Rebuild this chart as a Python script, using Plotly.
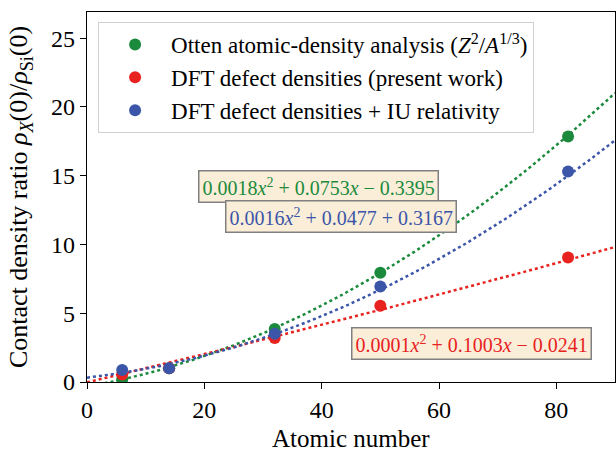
import numpy as np
import plotly.graph_objects as go

# ---- data ----
otten_z = [6, 14, 32, 50, 82]
otten_ratio = [0.2, 1.0, 3.85, 7.95, 17.85]
dft_z = [6, 14, 32, 50, 82]
dft_ratio = [0.55, 1.0, 3.2, 5.55, 9.05]
iu_z = [6, 14, 32, 50, 82]
iu_ratio = [0.88, 1.0, 3.5, 6.95, 15.3]

# quadratic fit coefficients (a, b, c) as printed on the chart
otten_fit = [0.0018, 0.0753, -0.3395]
dft_fit = [0.0001, 0.1003, -0.0241]
iu_fit = [0.0016, 0.0477, 0.3167]

green = "#1b8a3c"
red = "#e8221e"
blue = "#3b55a8"
FONT = "Liberation Serif"

xfit = np.linspace(0, 90, 181)

fig = go.Figure()
series = [
    (otten_z, otten_ratio, otten_fit, green,
     "Otten atomic-density analysis (<i>Z</i><sup>2</sup>/<i>A</i><sup>1/3</sup>)"),
    (dft_z, dft_ratio, dft_fit, red, "DFT defect densities (present work)"),
    (iu_z, iu_ratio, iu_fit, blue, "DFT defect densities + IU relativity"),
]
for xs, ys, coef, col, name in series:
    fig.add_trace(go.Scatter(x=xfit, y=np.polyval(coef, xfit), mode="lines",
                             line=dict(color=col, width=2.5, dash="dot"),
                             showlegend=False, hoverinfo="skip"))
for xs, ys, coef, col, name in series:
    fig.add_trace(go.Scatter(x=xs, y=ys, mode="markers", name=name,
                             marker=dict(color=col, size=12)))

def ann(text, x, y, col):
    fig.add_annotation(x=x, y=y, xref="x", yref="y", text=text, showarrow=False,
                       font=dict(family=FONT, size=20, color=col),
                       bgcolor="#faeed9", bordercolor="#808080", borderwidth=1.5,
                       borderpad=3)

ann("0.0018<i>x</i><sup>2</sup> + 0.0753<i>x</i> − 0.3395", 39.4, 14.24, green)
ann("0.0016<i>x</i><sup>2</sup> + 0.0477 + 0.3167", 43.3, 12.06, blue)
ann("0.0001<i>x</i><sup>2</sup> + 0.1003<i>x</i> − 0.0241", 65.5, 2.83, red)

# x-axis title placed just below the tick labels
fig.add_annotation(x=0.5, y=-0.152, xref="paper", yref="paper", text="Atomic number",
                   showarrow=False, xanchor="center", yanchor="middle",
                   font=dict(family=FONT, size=25, color="black"))

axis_common = dict(showline=True, linecolor="black", linewidth=1.2, mirror=True,
                   ticks="outside", ticklen=6, tickcolor="black", showgrid=False,
                   zeroline=False, automargin=False,
                   tickfont=dict(family=FONT, size=24, color="black"))

fig.update_layout(
    width=616, height=449,
    margin=dict(l=87, r=1, t=12, b=67),
    paper_bgcolor="white", plot_bgcolor="white",
    font=dict(family=FONT, color="black"),
    xaxis=dict(range=[0, 90], tickvals=[0, 20, 40, 60, 80], **axis_common),
    yaxis=dict(range=[0, 26.9], tickvals=[0, 5, 10, 15, 20, 25],
               title=dict(text="Contact density ratio <i>ρ<sub>X</sub></i>(0)/<i>ρ</i><sub>Si</sub>(0)",
                          font=dict(family=FONT, size=26)),
               **axis_common),
    legend=dict(x=0.021, y=0.973, xanchor="left", yanchor="top",
                bgcolor="white", bordercolor="#d0d0d0", borderwidth=1,
                itemwidth=62,
                font=dict(family=FONT, size=23, color="black")),
)

fig.write_html("out.html")
